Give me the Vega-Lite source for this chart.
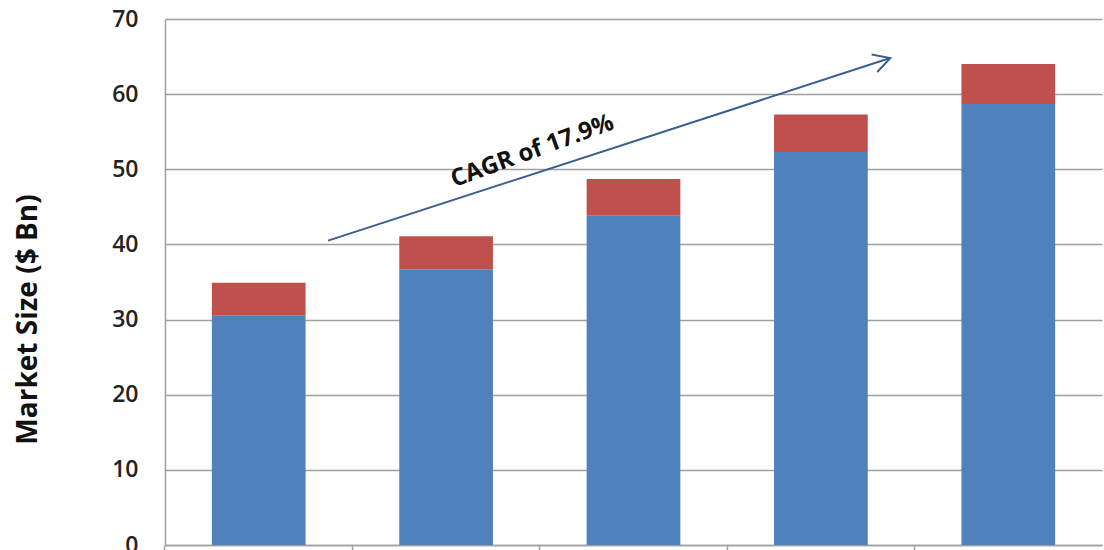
{
  "$schema": "https://vega.github.io/schema/vega-lite/v6.json",
  "width": 937,
  "height": 526,
  "autosize": {"type": "none"},
  "padding": {"left": 165, "top": 19, "right": 2, "bottom": 5},
  "background": "white",
  "config": {
    "view": {"stroke": null},
    "font": "Open Sans"
  },
  "resolve": {"scale": {"x": "independent"}},
  "layer": [
    {
      "data": {
        "values": [
          {"year": "2013", "series": "Series 1", "value": 30.5},
          {"year": "2013", "series": "Series 2", "value": 4.4},
          {"year": "2014", "series": "Series 1", "value": 36.7},
          {"year": "2014", "series": "Series 2", "value": 4.4},
          {"year": "2015", "series": "Series 1", "value": 43.8},
          {"year": "2015", "series": "Series 2", "value": 4.9},
          {"year": "2016", "series": "Series 1", "value": 52.3},
          {"year": "2016", "series": "Series 2", "value": 5.0},
          {"year": "2017", "series": "Series 1", "value": 58.7},
          {"year": "2017", "series": "Series 2", "value": 5.3}
        ]
      },
      "mark": {"type": "bar"},
      "encoding": {
        "x": {
          "field": "year",
          "type": "nominal",
          "scale": {"paddingInner": 0.5, "paddingOuter": 0.25},
          "axis": {
            "title": null,
            "domainColor": "#a0a0a0",
            "domainWidth": 1.5,
            "tickColor": "#a0a0a0",
            "tickWidth": 1.5,
            "tickSize": 8,
            "bandPosition": -0.5,
            "labels": false,
            "grid": false
          }
        },
        "y": {
          "field": "value",
          "type": "quantitative",
          "stack": "zero",
          "scale": {"domain": [0, 70], "nice": false},
          "axis": {
            "title": "Market Size ($ Bn)",
            "titleFontSize": 28,
            "titleFontWeight": "bold",
            "titleColor": "#111111",
            "titleX": -137,
            "titleY": 300,
            "titleAngle": -90,
            "titleAlign": "center",
            "titleBaseline": "middle",
            "values": [0, 10, 20, 30, 40, 50, 60, 70],
            "labelFontSize": 23,
            "labelFontWeight": 600,
            "labelColor": "#222222",
            "ticks": false,
            "tickSize": 0,
            "labelPadding": 27,
            "domainColor": "#a0a0a0",
            "domainWidth": 1.5,
            "grid": true,
            "gridColor": "#a0a0a0",
            "gridWidth": 1.5
          }
        },
        "color": {
          "field": "series",
          "type": "nominal",
          "scale": {"domain": ["Series 1", "Series 2"], "range": ["#4F81BD", "#C0504D"]},
          "legend": null
        },
        "order": {"field": "series", "sort": "ascending"}
      }
    },
    {
      "data": {"values": [{"x0": 0.87, "y0": 40.5, "x1": 3.87, "y1": 64.8}]},
      "mark": {"type": "rule", "color": "#3b5f8c", "strokeWidth": 2},
      "encoding": {
        "x": {"field": "x0", "type": "quantitative", "scale": {"domain": [0, 5], "nice": false, "zero": false}, "axis": null},
        "x2": {"field": "x1"},
        "y": {"field": "y0", "type": "quantitative"},
        "y2": {"field": "y1"}
      }
    },
    {
      "data": {"values": [{"x": 3.87, "y": 64.8}]},
      "mark": {
        "type": "point",
        "shape": "M-1.8,-1L0,0L-1.8,1",
        "size": 340,
        "filled": false,
        "angle": -18,
        "color": "#3b5f8c",
        "strokeWidth": 2,
        "opacity": 1
      },
      "encoding": {
        "x": {"field": "x", "type": "quantitative", "scale": {"domain": [0, 5], "nice": false, "zero": false}, "axis": null},
        "y": {"field": "y", "type": "quantitative"}
      }
    },
    {
      "data": {"values": [{"x": 1.96, "y": 52.4, "label": "CAGR of 17.9%"}]},
      "mark": {
        "type": "text",
        "angle": -20,
        "fontSize": 24,
        "fontWeight": "bold",
        "color": "#111111",
        "align": "center",
        "baseline": "middle"
      },
      "encoding": {
        "x": {"field": "x", "type": "quantitative", "scale": {"domain": [0, 5], "nice": false, "zero": false}, "axis": null},
        "y": {"field": "y", "type": "quantitative"},
        "text": {"field": "label"}
      }
    }
  ]
}
